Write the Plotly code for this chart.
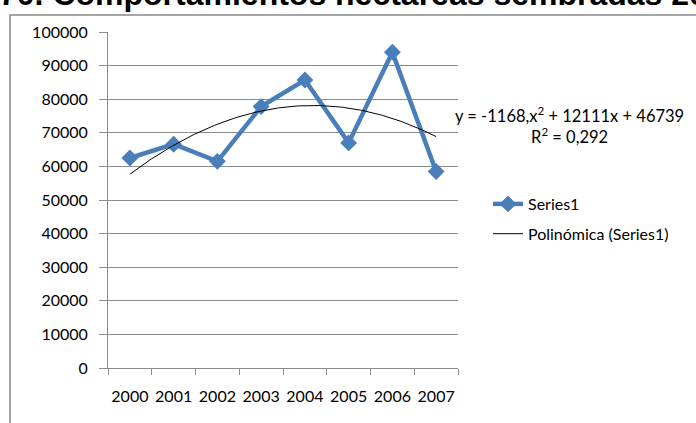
import numpy as np
import plotly.graph_objects as go

# Hectares sown per year
years = ["2000", "2001", "2002", "2003", "2004", "2005", "2006", "2007"]
hectares = [62500, 66600, 61500, 77800, 85700, 67000, 94000, 58500]

# Polynomial (order 2) trend coefficients as printed on the chart
trend_coef = [-1168, 12111, 46739]
y_ticks = [0, 10000, 20000, 30000, 40000, 50000, 60000, 70000, 80000, 90000, 100000]

W, H = 696, 423
L, R, T, B = 108, 238, 32, 55
PW, PH = W - L - R, H - T - B


def px_x(p):
    return (p - L) / PW


def px_y(p):
    return (H - B - p) / PH


pos = np.arange(1, len(years) + 1)
xs = np.linspace(1, len(years), 200)
trend = np.polyval(trend_coef, xs)

font_main = "Lato, 'Open Sans', sans-serif"
blue = "#4A7EBB"
grid = "#8C8C8C"

fig = go.Figure()
fig.add_trace(go.Scatter(
    x=pos, y=hectares, mode="lines+markers", name="Series1",
    line=dict(color=blue, width=4.5),
    marker=dict(symbol="diamond", size=13, color=blue),
    legendgroup="a",
))
fig.add_trace(go.Scatter(
    x=xs, y=trend, mode="lines", name="Polinómica (Series1)",
    line=dict(color="#000000", width=1),
    legendgroup="b",
))

fig.update_layout(
    width=W, height=H,
    margin=dict(l=L, r=R, t=T, b=B),
    paper_bgcolor="white", plot_bgcolor="white",
    font=dict(family=font_main, size=16, color="#000000"),
    showlegend=True,
    legend=dict(
        x=px_x(488), y=px_y(187), xanchor="left", yanchor="top",
        font=dict(size=16), tracegroupgap=6, bgcolor="rgba(0,0,0,0)",
    ),
    xaxis=dict(
        range=[0.5, len(years) + 0.5],
        tickvals=list(pos), ticktext=years, ticks="",
        showgrid=False, zeroline=False,
        showline=True, linecolor=grid, linewidth=1,
        tickfont=dict(size=16), ticklabelstandoff=14,
        minor=dict(tickvals=list(np.arange(0.5, len(years) + 1, 1.0)),
                   ticks="outside", ticklen=6, tickcolor=grid, showgrid=False),
    ),
    yaxis=dict(
        range=[0, 100000], tickvals=y_ticks, ticktext=[str(v) for v in y_ticks],
        ticks="outside", ticklen=8, tickcolor=grid,
        showgrid=True, gridcolor=grid, gridwidth=1,
        zeroline=False, showline=True, linecolor=grid, linewidth=1,
        tickfont=dict(size=16), ticklabelstandoff=8,
    ),
)

# Trend equation and R²
fig.add_annotation(
    xref="paper", yref="paper", x=px_x(569), y=px_y(125),
    xanchor="center", yanchor="middle", showarrow=False, align="center",
    text="y = -1168,x<sup>2</sup> + 12111x + 46739<br>R<sup>2</sup> = 0,292",
    font=dict(size=16.5, family=font_main),
)

# Chart title (runs past the top edge of the page)
fig.add_annotation(
    xref="paper", yref="paper", x=px_x(-3), y=px_y(14),
    xanchor="left", yanchor="bottom", showarrow=False,
    text="<b>70. Comportamientos hectareas sembradas 2000-2007</b>",
    font=dict(size=32, family="'Liberation Sans', Arial, sans-serif"),
)

# Chart-area frame
fig.add_shape(
    type="rect", xref="paper", yref="paper",
    x0=px_x(10), x1=px_x(800), y0=px_y(600), y1=px_y(15),
    line=dict(color="#888888", width=1.5), layer="below",
)

fig.write_html("out.html")
